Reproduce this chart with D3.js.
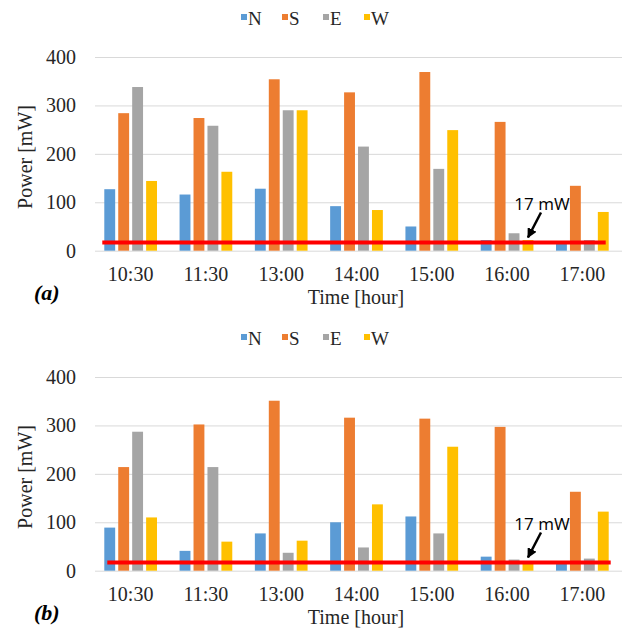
<!DOCTYPE html>
<html>
<head>
<meta charset="utf-8">
<script src="https://cdn.jsdelivr.net/npm/d3@7"></script>
<style>
  body { margin: 0; background: #fff; }
  svg text { font-family: "Liberation Serif"; }
  svg text.sans { font-family: "Open Sans"; }
</style>
</head>
<body>
<script>
// chart data
const times = ["10:30", "11:30", "13:00", "14:00", "15:00", "16:00", "17:00"];
const dirs = ["N", "S", "E", "W"];
const yTicks = [0, 100, 200, 300, 400];
const threshold = 17;

// panel (a)
const a_N = [127, 116, 128, 92, 50, 22, 14];
const a_S = [284, 274, 354, 327, 369, 266, 134];
const a_E = [338, 258, 290, 215, 169, 36, 22];
const a_W = [144, 163, 290, 84, 249, 22, 80];

// panel (b)
const b_N = [89, 41, 77, 100, 112, 29, 14];
const b_S = [214, 302, 351, 316, 314, 297, 163];
const b_E = [287, 214, 37, 48, 77, 23, 25];
const b_W = [110, 60, 62, 137, 256, 16, 122];

const colors = {N: "#5B9BD5", S: "#ED7D31", E: "#A5A5A5", W: "#FFC000"};

const width = 630, height = 639;

const svg = d3.select("body").append("svg")
    .attr("width", width)
    .attr("height", height);

svg.append("defs").append("marker")
    .attr("id", "arrowhead")
    .attr("viewBox", "0 0 10 10")
    .attr("refX", 9)
    .attr("refY", 5)
    .attr("markerWidth", 4)
    .attr("markerHeight", 4)
    .attr("orient", "auto")
    .append("path")
    .attr("d", "M0,0 L10,5 L0,10 z")
    .attr("fill", "#000");

function drawPanel(oy, series, tag, lineShift) {
    const g = svg.append("g");

    const x0 = d3.scaleBand()
        .domain(times)
        .range([93, 620])
        .paddingInner(0.3)
        .paddingOuter(0.15);

    const x1 = d3.scaleBand()
        .domain(dirs)
        .range([0, x0.bandwidth()])
        .paddingInner(0.22);

    const y = d3.scaleLinear()
        .domain([0, 400])
        .range([oy + 250.7, oy + 57]);

    // gridlines + y labels
    const yAxis = g.append("g")
        .attr("transform", "translate(95,0)")
        .call(d3.axisLeft(y).tickValues(yTicks).tickSize(-527).tickPadding(19));
    yAxis.select(".domain").remove();
    yAxis.selectAll("line").attr("stroke", "#d9d9d9").attr("stroke-width", 1);
    yAxis.selectAll("text")
        .attr("font-size", 20)
        .attr("fill", "#262626");

    // x labels
    const xAxis = g.append("g")
        .attr("transform", "translate(0," + (oy + 250.7) + ")")
        .call(d3.axisBottom(x0).tickSize(0).tickPadding(16));
    xAxis.select(".domain").remove();
    xAxis.selectAll("text")
        .attr("font-size", 20)
        .attr("fill", "#262626");

    // bars
    const rows = times.map(function(t, i) {
        return {time: t, vals: dirs.map(function(d) { return {dir: d, v: series[d][i]}; })};
    });

    g.append("g")
        .selectAll("g")
        .data(rows)
        .enter().append("g")
        .attr("transform", function(d) { return "translate(" + x0(d.time) + ",0)"; })
        .selectAll("rect")
        .data(function(d) { return d.vals; })
        .enter().append("rect")
        .attr("x", function(d) { return x1(d.dir); })
        .attr("y", function(d) { return y(d.v); })
        .attr("width", x1.bandwidth())
        .attr("height", function(d) { return y(0) - y(d.v); })
        .attr("fill", function(d) { return colors[d.dir]; });

    // 17 mW threshold line
    g.append("line")
        .attr("x1", x0(times[0]) - 2 + lineShift)
        .attr("x2", x0(times[times.length - 1]) + x0.bandwidth() - 3 + lineShift)
        .attr("y1", y(threshold))
        .attr("y2", y(threshold))
        .attr("stroke", "#ff0000")
        .attr("stroke-width", 4);

    // arrow + label
    const tipX = x0("16:00") + x1("W") + x1.bandwidth() / 2;
    const tipY = y(threshold) - 5;
    g.append("line")
        .attr("x1", tipX + 13)
        .attr("y1", tipY - 25)
        .attr("x2", tipX)
        .attr("y2", tipY)
        .attr("stroke", "#000")
        .attr("stroke-width", 2.5)
        .attr("marker-end", "url(#arrowhead)");
    g.append("text")
        .attr("class", "sans")
        .attr("x", tipX + 14)
        .attr("y", tipY - 27)
        .attr("text-anchor", "middle")
        .attr("font-size", 17)
        .attr("fill", "#000")
        .text(threshold + " mW");

    // legend
    const leg = g.append("g");
    dirs.forEach(function(d, i) {
        const lx = 241 + i * 41;
        leg.append("rect")
            .attr("x", lx)
            .attr("y", oy + 14)
            .attr("width", 6)
            .attr("height", 6)
            .attr("fill", colors[d]);
        leg.append("text")
            .attr("x", lx + 7)
            .attr("y", oy + 25)
            .attr("font-size", 19)
            .attr("fill", "#262626")
            .text(d);
    });

    // axis titles
    g.append("text")
        .attr("transform", "translate(32," + (oy + 157) + ") rotate(-90)")
        .attr("text-anchor", "middle")
        .attr("font-size", 20)
        .attr("fill", "#262626")
        .text("Power [mW]");

    g.append("text")
        .attr("x", 356)
        .attr("y", oy + 304)
        .attr("text-anchor", "middle")
        .attr("font-size", 20)
        .attr("fill", "#262626")
        .text("Time [hour]");

    g.append("text")
        .attr("x", 34)
        .attr("y", oy + 300)
        .attr("font-size", 22)
        .attr("font-weight", "bold")
        .attr("font-style", "italic")
        .attr("fill", "#000")
        .text(tag);
}

drawPanel(0, {N: a_N, S: a_S, E: a_E, W: a_W}, "(a)", 0);
drawPanel(320, {N: b_N, S: b_S, E: b_E, W: b_W}, "(b)", 5);
</script>
</body>
</html>
